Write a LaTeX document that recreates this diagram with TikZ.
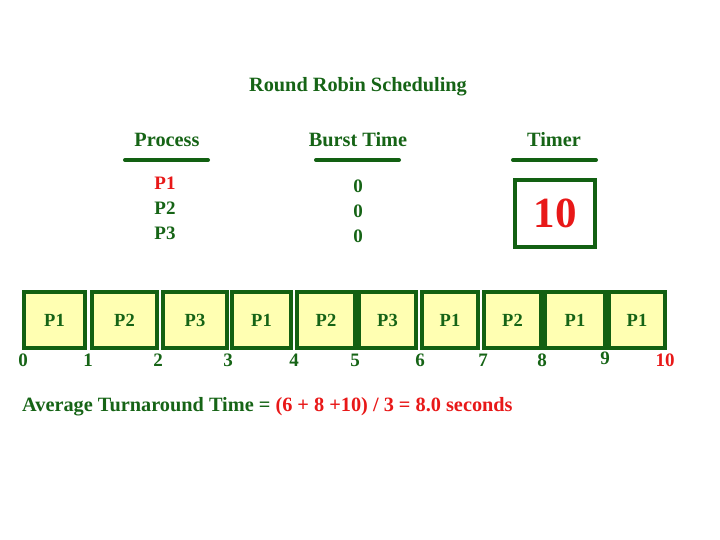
\documentclass[tikz,border=0pt]{standalone}
\usepackage{fontspec}
\setmainfont{Liberation Serif}
\usetikzlibrary{positioning, calc}

\definecolor{rrgreen}{RGB}{22,100,22}
\definecolor{rrline}{RGB}{18,96,18}
\definecolor{rrred}{RGB}{232,24,24}
\definecolor{rryellow}{RGB}{255,255,178}

\begin{document}
\begin{tikzpicture}[
    x=1pt, y=-1pt,
    slotbox/.style={rectangle, draw=rrline, line width=4pt, fill=rryellow,
                    minimum height=56pt, inner sep=0pt, font=\fontsize{18.5}{21}\selectfont\bfseries, text=rrgreen},
    headtxt/.style={font=\fontsize{20.3}{23}\selectfont\bfseries, text=rrgreen},
    celltxt/.style={font=\fontsize{19}{22}\selectfont\bfseries, text=rrgreen},
    ticktxt/.style={font=\fontsize{19}{22}\selectfont\bfseries, text=rrgreen},
    headline/.style={draw=rrline, line width=4pt, line cap=round},
    font=\bfseries
  ]
  \useasboundingbox (0,0) rectangle (720,540);

  % title and column headers
  \node[headtxt] (title) at (358,87) {Round Robin Scheduling};
  \node[headtxt] (hproc) at (167,140) {Process};
  \node[headtxt] (hburst) at (358,140) {Burst Time};
  \node[headtxt] (htimer) at (554,140) {Timer};
  \draw[headline] (125,160) -- (208,160);
  \draw[headline] (316,160) -- (399,160);
  \draw[headline] (513,160) -- (596,160);

  % process table
  \node[celltxt, text=rrred] (p1) at (165,183) {P1};
  \node[celltxt] (p2) at (165,208) {P2};
  \node[celltxt] (p3) at (165,233) {P3};
  \node[celltxt] (b1) at (358,186) {0};
  \node[celltxt] (b2) at (358,211) {0};
  \node[celltxt] (b3) at (358,236) {0};

  % timer
  \node[rectangle, draw=rrline, line width=4pt, minimum width=80pt, minimum height=67pt,
        font=\fontsize{43}{45}\selectfont\bfseries, text=rrred] (timer) at (555,213.5) {10};

  % gantt chart
  \foreach \lft/\rgt/\lbl [count=\i] in {22/87/P1, 90/159/P2, 161/229/P3, 230/293/P1, 295/357/P2,
                                          357/418/P3, 420/480/P1, 482/543/P2, 543/607/P1, 607/667/P1}
    \node[slotbox, minimum width={\rgt-\lft-4}] (slot\i) at ({(\lft+\rgt)/2},320) {\lbl};

  % time marks
  \foreach \tx/\tl in {23/0, 88/1, 158/2, 228/3, 294/4, 355/5, 420/6, 483/7, 542/8}
    \node[ticktxt] (t\tl) at (\tx,360) {\tl};
  \node[ticktxt] (t9) at (605,358) {9};
  \node[ticktxt, text=rrred] (t10) at (665,360) {10};

  % average
  \node[headtxt, anchor=west, inner sep=0pt] (avg) at (22,407)
    {Average Turnaround Time = \textcolor{rrred}{(6 + 8 +10) / 3 = 8.0 seconds}};
\end{tikzpicture}
\end{document}
